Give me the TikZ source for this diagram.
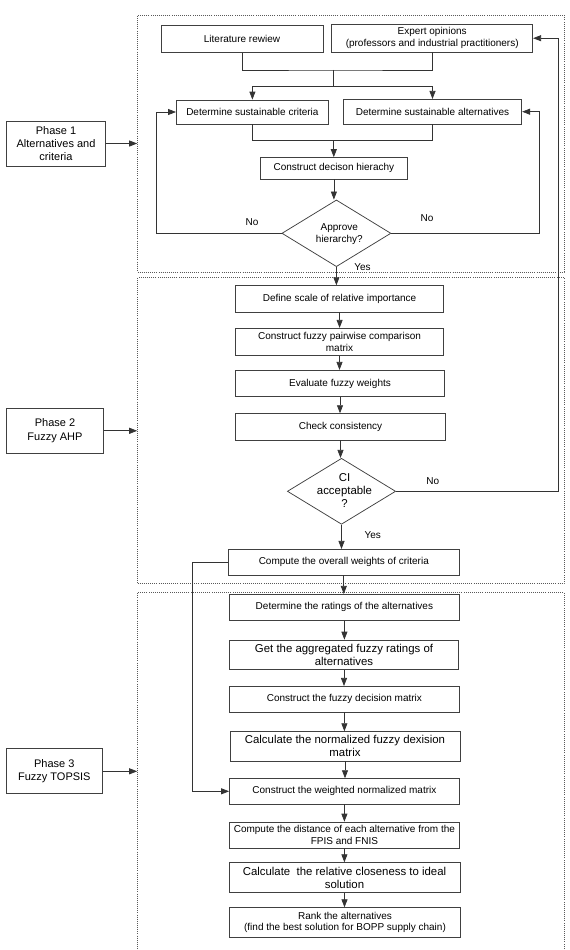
\documentclass[tikz,border=0pt]{standalone}
\usepackage{fontspec}
\setmainfont{Liberation Sans}
\usetikzlibrary{arrows.meta,shapes.geometric}

\begin{document}
\begin{tikzpicture}[x=1pt,y=-1pt,
    stepbox/.style={draw=black!75, line width=0.75pt, inner sep=1pt, align=center, font=\fontsize{10}{11.7}\selectfont},
    bigtext/.style={font=\fontsize{11.4}{13}\selectfont},
    phasebox/.style={draw=black!75, line width=0.75pt, inner sep=1pt, align=center, minimum width=97, minimum height=45, font=\fontsize{11}{13.3}\selectfont},
    decide/.style={diamond, draw=black!75, line width=0.75pt, inner sep=0pt},
    phaseframe/.style={draw=black!65, line width=0.6pt, dash pattern=on 0.8pt off 1.3pt, inner sep=0pt},
    conn/.style={draw=black!80, line width=0.75pt},
    arr/.style={-{Triangle[length=8pt,width=6pt]}},
    lbl/.style={font=\fontsize{10}{11.7}\selectfont, inner sep=0pt}]

                \useasboundingbox (0,0) rectangle (570,950);

                \node[phaseframe, minimum width=426.5, minimum height=257] (b1) at (350.75,143.5) {};
                \node[phaseframe, minimum width=426.5, minimum height=306] (b2) at (350.75,430.5) {};
                \node[phaseframe, minimum width=426.5, minimum height=360] (b3) at (350.75,772.5) {};

                \node[stepbox, minimum width=162, minimum height=26.6] (lit) at (242,39) {Literature rewiew};
                \node[stepbox, minimum width=201, minimum height=27.7] (exp) at (432.2,38.2) {Expert opinions\\(professors and industrial practitioners)};
                \node[stepbox, minimum width=152, minimum height=24] (crit) at (252.4,112) {Determine sustainable criteria};
                \node[stepbox, minimum width=178.5, minimum height=24.7] (alt) at (432.5,111.7) {Determine sustainable alternatives};
                \node[stepbox, minimum width=147, minimum height=21.5] (hier) at (333.9,168.3) {Construct decison hierachy};
                \node[decide, minimum width=109, minimum height=66.7] (appr) at (336.4,233.3) {};
                \node[lbl, align=center] (appr-t) at (339.3,234) {Approve\\hierarchy?};

                \node[stepbox, minimum width=208, minimum height=26.3] (scale) at (339.6,298.8) {Define scale of relative importance};
                \node[stepbox, minimum width=208.3, minimum height=27] (pair) at (339.5,341.8) {Construct fuzzy pairwise comparison\\matrix};
                \node[stepbox, minimum width=209.4, minimum height=26.4] (eval) at (340,383.5) {Evaluate fuzzy weights};
                \node[stepbox, minimum width=210, minimum height=26.3] (check) at (340.5,426.8) {Check consistency};
                \node[decide, minimum width=108.3, minimum height=66] (ci) at (341.5,491.3) {};
                \node[lbl, bigtext, align=center] (ci-t) at (344.5,490.5) {CI\\acceptable\\?};
                \node[stepbox, minimum width=231, minimum height=25.7] (overall) at (343.8,562.2) {Compute the overall weights of criteria};

                \node[stepbox, minimum width=229.8, minimum height=26] (rate) at (344.4,607.3) {Determine the ratings of the alternatives};
                \node[stepbox, bigtext, minimum width=229, minimum height=29.3] (aggr) at (344,654.7) {Get the aggregated fuzzy ratings of\\alternatives};
                \node[stepbox, minimum width=229.8, minimum height=25.7] (dec) at (344.4,699.2) {Construct the fuzzy decision matrix};
                \node[stepbox, bigtext, minimum width=230, minimum height=29.3] (norm) at (345,746.3) {Calculate the normalized fuzzy dexision\\matrix};
                \node[stepbox, minimum width=229.8, minimum height=25.3] (wnorm) at (344.4,791.3) {Construct the weighted normalized matrix};
                \node[stepbox, minimum width=229.8, minimum height=26.3] (dist) at (344.4,835.2) {Compute the distance of each alternative from the\\FPIS and FNIS};
                \node[stepbox, bigtext, minimum width=230.9, minimum height=29.6] (close) at (344.5,877.5) {Calculate \ the relative closeness to ideal\\solution};
                \node[stepbox, minimum width=231, minimum height=29.6] (rank) at (345,922.5) {Rank the alternatives\\(find the best solution for BOPP supply chain)};

                \node[phasebox, minimum width=99] (ph1) at (56,143.5) {Phase 1\\Alternatives and\\criteria};
                \node[phasebox] (ph2) at (55,430.8) {Phase 2\\Fuzzy AHP};
                \node[phasebox, minimum width=95.7] (ph3) at (54.3,771.3) {Phase 3\\Fuzzy TOPSIS};

                \coordinate (j1) at (333.8,70);
                \coordinate (j2) at (333.8,86);
                \coordinate (j3) at (333.8,140.7);
                \coordinate (l1) at (156.4,233.3);
                \coordinate (r1) at (539,233.3);
                \coordinate (r2) at (558,491.3);
                \coordinate (l2) at (192,562.2);

                \draw[conn] (lit.south) |- (j1) -| (exp.south);
                \draw[conn] (j1) -- (j2);
                \draw[conn, arr] (j2) -| (crit.north);
                \draw[conn, arr] (j2) -| (alt.north);
                \draw[conn] (crit.south) |- (j3) -| (alt.south);
                \draw[conn, arr] (j3) -- (j3 |- hier.north);
                \draw[conn, arr] (hier.south) -- (hier.south |- appr.north);
                \draw[conn, arr] (appr.west) -- (l1) |- (crit.west);
                \draw[conn, arr] (appr.east) -- (r1) |- (alt.east);
                \draw[conn, arr] (appr.south) -- (appr.south |- scale.north);

                \draw[conn, arr] (scale.south) -- (scale.south |- pair.north);
                \draw[conn, arr] (pair.south) -- (pair.south |- eval.north);
                \draw[conn, arr] (eval.south) -- (eval.south |- check.north);
                \draw[conn, arr] (check.south) -- (check.south |- ci.north);
                \draw[conn, arr] (ci.south) -- (ci.south |- overall.north);
                \draw[conn, arr] (ci.east) -- (r2) |- (exp.east);

                \draw[conn, arr] (overall.south) -- (overall.south |- rate.north);
                \draw[conn, arr] (overall.west) -- (l2) |- (wnorm.west);
                \draw[conn, arr] (rate.south) -- (rate.south |- aggr.north);
                \draw[conn, arr] (aggr.south) -- (aggr.south |- dec.north);
                \draw[conn, arr] (dec.south) -- (dec.south |- norm.north);
                \draw[conn, arr] (norm.south) -- (norm.south |- wnorm.north);
                \draw[conn, arr] (wnorm.south) -- (wnorm.south |- dist.north);
                \draw[conn, arr] (dist.south) -- (dist.south |- close.north);
                \draw[conn, arr] (close.south) -- (close.south |- rank.north);

                \draw[conn, arr] (ph1.east) -- (ph1.east -| b1.west);
                \draw[conn, arr] (ph2.east) -- (ph2.east -| b2.west);
                \draw[conn, arr] (ph3.east) -- (ph3.east -| b3.west);

                \node[lbl] (no1) at (252,222) {No};
                \node[lbl] (no2) at (427,217.7) {No};
                \node[lbl] (yes1) at (362.5,266.7) {Yes};
                \node[lbl] (no3) at (432.7,480.7) {No};
                \node[lbl] (yes2) at (372.7,535) {Yes};

\end{tikzpicture}
\end{document}
